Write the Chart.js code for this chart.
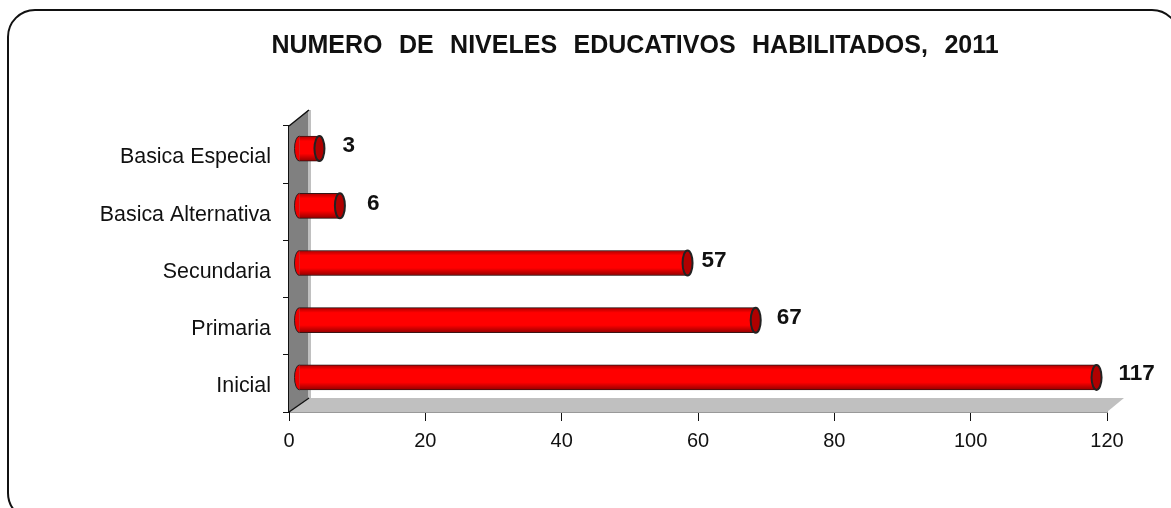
<!DOCTYPE html>
<html>
<head>
<meta charset="utf-8">
<script src="https://cdn.jsdelivr.net/npm/chart.js@4"></script>
<style>
    html, body { margin: 0; padding: 0; background: #fff; overflow: hidden; }
    #wrap { position: relative; width: 1171px; height: 508px; overflow: hidden; }
    #frame { position: absolute; left: 7px; top: 9px; width: 1173px; height: 512px; border: 2px solid #111; border-radius: 28px; box-sizing: border-box; }
    #chart { position: absolute; left: 0; top: 0; }
</style>
</head>
<body>
<div id="wrap">
    <div id="frame"></div>
    <canvas id="chart" width="1171" height="508"></canvas>
</div>
<script>
// #### DATA ####
let chartTitle = "NUMERO DE NIVELES EDUCATIVOS HABILITADOS, 2011";
let categories = ["Basica Especial", "Basica Alternativa", "Secundaria", "Primaria", "Inicial"];
let niveles = [3, 6, 57, 67, 117];
let xTicks = [0, 20, 40, 60, 80, 100, 120];

// #### 3D LOOK ####
let depthX = 20;
let depthY = -14;
let barShiftX = 10;
let barShiftY = -6;
let capRadius = 5;
let labelFont = "bold 22.5px 'Liberation Sans'";
// the value labels were placed by hand in the original
let labelNudgeX = [23, 27, 14, 21, 22];
let labelNudgeY = [-3, -2, -2, -2, -4];

// walls behind the bars, then the caps and value labels on top
let cylinderPlugin = {
    id: "cylinder",
    beforeDraw(chart) {
        let ctx = chart.ctx;
        ctx.save();
        ctx.font = "bold 25px 'Liberation Sans'";
        ctx.wordSpacing = "9.5px";
        ctx.fillStyle = "#111";
        ctx.textAlign = "center";
        ctx.textBaseline = "middle";
        ctx.fillText(chartTitle, 635, 46);
        ctx.restore();
    },
    beforeDatasetsDraw(chart) {
        let {ctx, chartArea: a} = chart;
        ctx.save();
        ctx.fillStyle = "#c0c0c0";
        ctx.beginPath();
        ctx.moveTo(a.left, a.bottom);
        ctx.lineTo(a.left + depthX, a.bottom + depthY);
        ctx.lineTo(a.right + depthX - 3, a.bottom + depthY);
        ctx.lineTo(a.right, a.bottom);
        ctx.fill();
        // light strip along the back of the wall
        ctx.fillRect(a.left + depthX - 1, a.top + depthY - 2, 3, a.bottom - a.top + 2);
        ctx.fillStyle = "#808080";
        ctx.beginPath();
        ctx.moveTo(a.left, a.bottom);
        ctx.lineTo(a.left + depthX - 1, a.bottom + depthY);
        ctx.lineTo(a.left + depthX - 1, a.top + depthY - 2);
        ctx.lineTo(a.left, a.top);
        ctx.fill();
        ctx.strokeStyle = "#111";
        ctx.lineWidth = 1.5;
        ctx.beginPath();
        ctx.moveTo(a.left, a.top);
        ctx.lineTo(a.left + depthX, a.top + depthY - 2);
        ctx.moveTo(a.left, a.bottom);
        ctx.lineTo(a.left + depthX, a.bottom + depthY);
        ctx.stroke();
        ctx.restore();
    },
    beforeDatasetDraw(chart) {
        chart.ctx.save();
        chart.ctx.translate(barShiftX, barShiftY);
    },
    afterDatasetDraw(chart, args) {
        let ctx = chart.ctx;
        for (let bar of args.meta.data) {
            let half = bar.height / 2;
            // rounded start of the bar
            ctx.fillStyle = "#f00000";
            ctx.strokeStyle = "#222";
            ctx.lineWidth = 1;
            ctx.beginPath();
            ctx.ellipse(bar.base, bar.y, capRadius, half, 0, Math.PI / 2, Math.PI * 1.5);
            ctx.fill();
            ctx.stroke();
            // cylinder shading, options are resolved before the bar has a position so it goes on top
            let shade = ctx.createLinearGradient(0, bar.y - half, 0, bar.y + half);
            shade.addColorStop(0, "rgba(90,0,0,0.5)");
            shade.addColorStop(0.2, "rgba(90,0,0,0)");
            shade.addColorStop(0.7, "rgba(90,0,0,0)");
            shade.addColorStop(1, "rgba(90,0,0,0.65)");
            ctx.fillStyle = shade;
            ctx.fillRect(bar.base, bar.y - half, bar.x - bar.base, bar.height);
            // open end
            ctx.fillStyle = "#b00000";
            ctx.lineWidth = 2;
            ctx.beginPath();
            ctx.ellipse(bar.x, bar.y, capRadius, half, 0, 0, Math.PI * 2);
            ctx.fill();
            ctx.stroke();
        }
        ctx.restore();

        ctx.save();
        ctx.font = labelFont;
        ctx.fillStyle = "#111";
        ctx.textAlign = "left";
        ctx.textBaseline = "middle";
        args.meta.data.forEach((bar, i) => {
            ctx.fillText(String(niveles[i]), bar.x + barShiftX + labelNudgeX[i], bar.y + barShiftY + labelNudgeY[i]);
        });
        ctx.restore();
    }
};

new Chart(document.getElementById("chart").getContext("2d"), {
    type: "bar",
    plugins: [cylinderPlugin],
    data: {
        labels: categories,
        datasets: [{
            data: niveles,
            backgroundColor: "#ff0000",
            borderColor: "#222",
            borderWidth: 1,
            barThickness: 25,
            clip: false
        }]
    },
    options: {
        indexAxis: "y",
        responsive: false,
        animation: false,
        layout: {padding: {left: 0, right: 64, top: 126, bottom: 0}},
        plugins: {
            legend: {display: false},
            tooltip: {enabled: false},
            title: {display: false}
        },
        scales: {
            x: {
                min: 0,
                max: 120,
                afterBuildTicks(scale) { scale.ticks = xTicks.map((v) => ({value: v})); },
                grid: {display: true, drawOnChartArea: false, tickLength: 9, tickColor: "#111"},
                border: {color: "#999", width: 2},
                ticks: {color: "#111", font: {family: "'Liberation Sans'", size: 20}, padding: 8, maxRotation: 0},
                afterFit(scale) { scale.height = 96; }
            },
            y: {
                grid: {display: true, drawOnChartArea: false, offset: true, tickLength: 6, tickColor: "#111"},
                border: {color: "#111", width: 2},
                ticks: {color: "#111", font: {family: "'Liberation Sans'", size: 21.4}, padding: 12, labelOffset: 3},
                afterFit(scale) { scale.width = 289; }
            }
        }
    }
});
</script>
</body>
</html>
